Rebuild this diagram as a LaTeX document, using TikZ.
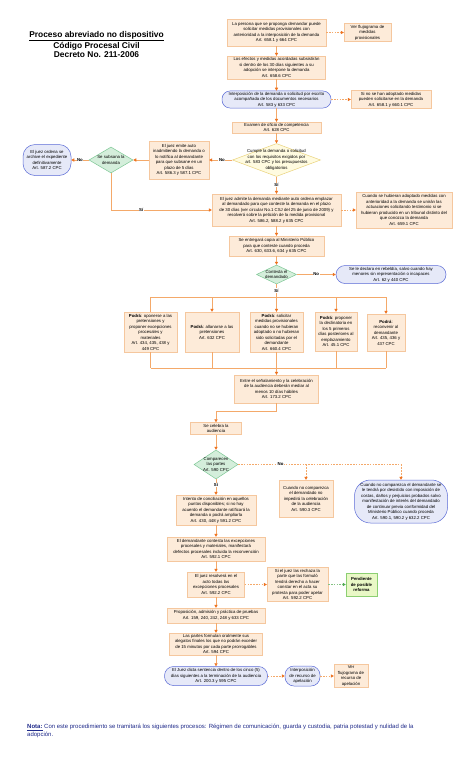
\documentclass[tikz,border=0pt]{standalone}
\usepackage{fontspec}
\setmainfont{Liberation Sans}
\usetikzlibrary{arrows.meta,shapes.geometric}
\definecolor{boxfill}{HTML}{FDEBD9}
\definecolor{boxdraw}{HTML}{F5C79E}
\definecolor{termfill}{HTML}{E6E9F8}
\definecolor{termdraw}{HTML}{5B6BD6}
\definecolor{greenfill}{HTML}{D4EEDB}
\definecolor{greendraw}{HTML}{7DC795}
\definecolor{yellfill}{HTML}{FFFBE0}
\definecolor{yelldraw}{HTML}{E9D27A}
\definecolor{pendfill}{HTML}{E9F8C6}
\definecolor{penddraw}{HTML}{8CCF72}
\definecolor{linec}{HTML}{F4A96A}
\definecolor{tipc}{HTML}{EE7320}
\definecolor{greenline}{HTML}{4FA84F}
\definecolor{notec}{HTML}{1F2A8A}
\begin{document}
\begin{tikzpicture}[x=1pt,y=-1pt,
  txt/.style={font=\fontsize{4.3}{5.5}\selectfont, align=center, inner sep=0.5pt},
  bx/.style={txt, draw=boxdraw, fill=boxfill, line width=0.4pt, inner sep=1pt},
  term/.style={txt, draw=termdraw, fill=termfill, line width=0.5pt, inner sep=1pt, rounded corners=#1},
  term/.default=8pt,
  pend/.style={txt, draw=penddraw, fill=pendfill, line width=0.5pt, inner sep=1pt},
  dmd/.style 2 args={diamond, draw=#1, fill=#2, inner sep=0pt, line width=0.5pt},
  sz/.style 2 args={minimum width=#1pt, minimum height=#2pt},
  lbl/.style={font=\fontsize{4.3}{5}\selectfont\bfseries, fill=white, inner sep=0.6pt},
  ln/.style={draw=linec, line width=0.6pt},
  arr/.style={ln, -{Triangle[length=3pt,width=3.2pt,color=tipc]}},
  dln/.style={ln, dash pattern=on 1.6pt off 1.2pt},
  darr/.style={arr, dash pattern=on 1.6pt off 1.2pt},
  garr/.style={draw=greenline!70, line width=0.6pt, dash pattern=on 1.6pt off 1.2pt, -{Triangle[length=3pt,width=3.2pt,color=greenline]}}
]
\fill[white] (0,0) rectangle (474,780);
\path[use as bounding box] (0,0) rectangle (474,780);

% title
\node[font=\fontsize{8.4}{9.6}\selectfont\bfseries, align=center, inner sep=0pt] (title) at (96.5,44.5)
  {\underline{Proceso abreviado no dispositivo}\\Código Procesal Civil\\Decreto No. 211-2006};

% upper column
\node[bx, sz={99}{27}] (b1) at (276.5,32.5) {La persona que se proponga demandar puede\\solicitar medidas provisionales con\\anterioridad a la interposición de la demanda\\Art. 658.1 y 664 CPC};
\node[bx, sz={47}{18}] (f1) at (367.5,32.5) {Ver flujograma de\\medidas\\provisionales};
\node[bx, sz={98}{23}] (b2) at (276.5,67.5) {Los efectos y medidas acordadas subsistirán\\si dentro de los 30 días siguientes a su\\adopción se interpone la demanda\\Art. 658.6 CPC};
\node[term=8pt, sz={109}{17}] (t3) at (276.5,99.5) {Interposición de la demanda o solicitud por escrito\\acompañada de los documentos necesarios\\Art. 583 y 633 CPC};
\node[bx, sz={80}{18}] (n3) at (391,99.5) {Si no se han adoptado medidas\\pueden solicitarse en la demanda\\Art. 658.1 y 660.1 CPC};
\node[bx, sz={89}{11}] (b4) at (276.5,127.5) {Examen de oficio de competencia\\Art. 628 CPC};
\node[dmd={yelldraw}{yellfill}, sz={88}{33}] (d1) at (276.5,160) {};
\node[txt] (d1t) at (d1.center) {Cumple la demanda o solicitud\\con los requisitos exigidos por\\art. 583 CPC y los presupuestos\\obligatorios};
\node[bx, sz={60}{38}] (binad) at (179,160) {El juez emite auto\\inadmitiendo la demanda o\\lo notifica al demandante\\para que subsane en un\\plazo de 5 días\\Art. 586.3 y 587.1 CPC};
\node[dmd={greendraw}{greenfill}, sz={44}{26}] (d2) at (111,160) {};
\node[txt] (d2t) at (d2.center) {Se subsana la\\demanda};
\node[term=12pt, sz={48}{31}] (tarch) at (47,160) {El juez ordena se\\archive el expediente\\definitivamente\\Art. 587.2 CPC};
\node[bx, sz={129}{32}] (b5) at (276.5,210) {El juez admite la demanda mediante auto ordena emplazar\\al demandado para que conteste la demanda en el plazo\\de 30 días (ver circular No.1 CSJ del 25 de junio de 2009) y\\resolverá sobre la petición de la medida provisional\\Art. 586.2, 588.2 y 635 CPC};
\node[bx, sz={96}{36}] (n5) at (404,210) {Cuando se hubieran adoptado medidas con\\anterioridad a la demanda se unirán las\\actuaciones solicitando testimonio si se\\hubieran producido en un tribunal distinto del\\que conozca la demanda\\Art. 659.1 CPC};
\node[bx, sz={95}{20}] (b6) at (276.5,246) {Se entregará copia al Ministerio Público\\para que conteste cuando proceda\\Art. 630, 633.6, 634 y 635 CPC};
\node[dmd={greendraw}{greenfill}, sz={40}{19}] (d3) at (276.5,274.5) {};
\node[txt] (d3t) at (d3.center) {Contesta el\\demandado};
\node[term=9pt, sz={110}{18}] (treb) at (391,274.5) {Se le declara en rebeldía, salvo cuando hay\\menores sin representación o incapaces\\Art. 62 y 440 CPC};

% options of the defendant
\node[bx, sz={53}{40}] (p1) at (150.5,332) {\textbf{Podrá}: oponerse a las\\pretensiones y\\proponer excepciones\\procesales y\\materiales\\Art. 434, 435, 438 y\\449 CPC};
\node[bx, sz={54}{40}] (p2) at (212,332) {\textbf{Podrá}: allanarse a las\\pretensiones\\Art. 632 CPC};
\node[bx, sz={53}{40}] (p3) at (276.5,332) {\textbf{Podrá}: solicitar\\medidas provisionales\\cuando no se hubieran\\adoptado o no hubieran\\sido solicitadas por el\\demandante\\Art. 660.4 CPC};
\node[bx, sz={42}{39}] (p4) at (336,331.5) {\textbf{Podrá}: proponer\\la declinatoria en\\los 5 primeros\\días posteriores al\\emplazamiento\\Art. 45.1 CPC};
\node[bx, sz={38}{37}] (p5) at (386,332.5) {\textbf{Podrá}:\\reconvenir al\\demandante\\Art. 435, 436 y\\437 CPC};
\coordinate (barL) at (150.5,297);
\coordinate (barR) at (386,297);
\coordinate (bbL) at (150.5,368);
\coordinate (bbR) at (386,368);

\node[bx, sz={84}{28}] (b7) at (276.5,389) {Entre el señalamiento y la celebración\\de la audiencia deberán mediar al\\menos 10 días hábiles\\Art. 173.2 CPC};
\node[bx, sz={51}{12}] (b8) at (216,428.5) {Se celebra la\\audiencia};
\node[dmd={greendraw}{greenfill}, sz={44}{29}] (d4) at (216,464.5) {};
\node[txt] (d4t) at (d4.center) {Comparecen\\las partes\\Art. 590 CPC};
\coordinate (nR) at (401,464.5);
\node[bx, sz={54}{37}] (ndem) at (306,498.5) {Cuando no comparezca\\el demandado no\\impedirá la celebración\\de la audiencia\\Art. 590.3 CPC};
\node[term=16pt, sz={93}{43}] (tdte) at (401,501.5) {Cuando no comparezca el demandante se\\le tendrá por desistido con imposición de\\costas, daños y perjuicios probados salvo\\manifestación de interés del demandado\\de continuar previa conformidad del\\Ministerio Público cuando proceda\\Art. 590.1, 590.2 y 632.2 CPC};
\node[bx, sz={80}{30}] (b9) at (216,510) {Intento de conciliación en aquellos\\puntos disponibles; si no hay\\acuerdo el demandante ratificará la\\demanda o podrá ampliarla\\Art. 430, 448 y 591.2 CPC};
\node[bx, sz={98}{24}] (b10) at (216,549) {El demandante contesta las excepciones\\procesales y materiales, manifestará\\defectos procesales incluida la reconvención\\Art. 592.1 CPC};
\node[bx, sz={57}{25}] (b11) at (216,584.5) {El juez resolverá en el\\acto todas las\\excepciones procesales\\Art. 592.2 CPC};
\node[bx, sz={61}{34}] (n11) at (297.5,584.5) {Si el juez las rechaza la\\parte que las formuló\\tendrá derecho a hacer\\constar en el acta su\\protesta para poder apelar\\Art. 592.2 CPC};
\node[pend, sz={31}{23}] (pnd) at (361.5,584.5) {\textbf{Pendiente}\\\textbf{de posible}\\\textbf{reforma}};
\node[bx, sz={98}{15}] (b12) at (216,615.5) {Proposición, admisión y práctica de pruebas\\Art. 159, 240, 242, 248 y 633 CPC};
\node[bx, sz={93}{22}] (b13) at (216,644) {Las partes formulan oralmente sus\\alegatos finales los que no podrán exceder\\de 15 minutos por cada parte prorrogables\\Art. 594 CPC};
\node[term=9pt, sz={103}{19}] (t14) at (216,676) {El Juez dicta sentencia dentro de los cinco (5)\\días siguientes a la terminación de la audiencia\\Art. 200.3 y 595 CPC};
\node[term=9pt, sz={35}{20}] (tap) at (302.5,676) {Interposición\\de recurso de\\apelación};
\node[bx, sz={34}{23}] (fap) at (351,676) {Ver\\flujograma de\\recurso de\\apelación};

% note
\node[anchor=north west, align=left, font=\fontsize{6.0}{8}\selectfont, text=notec, inner sep=0pt] (nota) at (27,724)
  {\underline{\textbf{Nota:}} Con este procedimiento se tramitará los siguientes procesos: Régimen de comunicación, guarda y custodia, patria potestad y nulidad de la\\adopción.};

% connectors
\draw[arr] (b1) -- (b2);
\draw[darr] (b1) -- (f1);
\draw[arr] (b2) -- (t3);
\draw[darr] (t3) -- (n3);
\draw[arr] (t3) -- (b4);
\draw[arr] (b4) -- (d1);
\draw[arr] (d1.west) -- node[lbl, pos=0.45]{No} (binad.east);
\draw[arr] (binad.west) -- (d2.east);
\draw[arr] (d2.west) -- node[lbl]{No} (tarch.east);
\draw[arr] (d2.south) |- node[lbl, pos=0.65]{Sí} (b5.west);
\draw[arr] (d1.south) -- node[lbl]{Sí} (b5.north);
\draw[darr] (b5) -- (n5);
\draw[arr] (b5) -- (b6);
\draw[arr] (b6) -- (d3);
\draw[arr] (d3.east) -- node[lbl]{No} (treb.west);
\draw[ln] (d3.south) -- node[lbl]{Sí} (d3.south |- barL);
\draw[ln] (barL) -- (barR);
\draw[ln] (barL) -- (p1.north);
\draw[arr] (p2.north |- barL) -- (p2.north);
\draw[arr] (p3.north |- barL) -- (p3.north);
\draw[arr] (p4.north |- barL) -- (p4.north);
\draw[arr] (barR) -- (p5.north);
\draw[ln] (p1.south) -- (bbL);
\draw[ln] (p2.south) -- (p2.south |- bbL);
\draw[ln] (p3.south) -- (p3.south |- bbL);
\draw[ln] (p4.south) -- (p4.south |- bbL);
\draw[ln] (p5.south) -- (bbR);
\draw[ln] (bbL) -- (bbR);
\draw[arr] (b7.north |- bbL) -- (b7.north);
\draw[arr] (b7.south) -- ++(0,8) -| (b8.north);
\draw[arr] (b8) -- (d4);
\draw[dln] (d4.east) -- node[lbl, pos=0.26]{No} (nR);
\draw[darr] (nR) -- (tdte.north);
\draw[darr] (ndem.north |- nR) -- (ndem.north);
\draw[arr] (d4.south) -- node[lbl, pos=0.35]{Sí} (b9.north);
\draw[arr] (b9) -- (b10);
\draw[arr] (b10) -- (b11);
\draw[darr] (b11) -- (n11);
\draw[garr] (n11) -- (pnd);
\draw[arr] (b11) -- (b12);
\draw[arr] (b12) -- (b13);
\draw[arr] (b13) -- (t14);
\draw[darr] (t14) -- (tap);
\draw[darr] (tap) -- (fap);
\end{tikzpicture}
\end{document}
